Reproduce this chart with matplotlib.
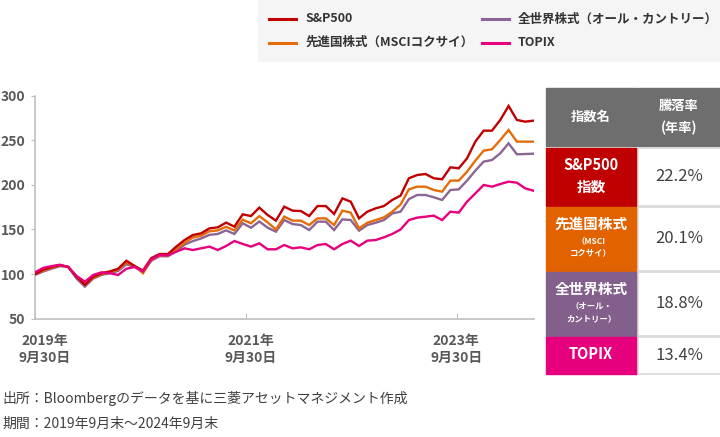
import matplotlib
matplotlib.use("Agg")
import matplotlib.pyplot as plt
from matplotlib.patches import Rectangle
from matplotlib.lines import Line2D
import numpy as np

plt.rcParams['font.family'] = ['Noto Sans CJK JP', 'DejaVu Sans']

# monthly index values, 2019/9 = 100
sp500 = [100, 105, 108, 110, 108, 97, 88, 97, 101, 103,
         106, 115, 109, 104, 118, 122.5, 122.5, 130.8, 138.2, 143.8,
         145.7, 151.3, 152.4, 157.7, 153.2, 167, 165.1, 174.5, 166.3, 159.9,
         175.6, 171.1, 170.7, 165.1, 176.3, 176.3, 167.4, 184.9, 181.2, 162.5,
         170, 173.7, 176.3, 183.1, 188, 207.4, 211.1, 212.2, 207.4, 206.3,
         219.7, 218.6, 229.8, 248.5, 260.8, 260.8, 272.8, 288.5, 272.8, 270.9, 272]
msci_kokusai = [100, 104, 107, 110, 108, 97, 88, 96, 100, 102,
                105, 113, 109, 101, 116, 121, 121, 128, 135, 141,
                143, 148, 149, 153, 149, 161, 157, 165, 158, 150,
                164.4, 159.9, 159.9, 155, 162.5, 162.5, 155, 171.1, 168.9, 151.3,
                157.6, 160.6, 163.6, 170, 178, 195, 198, 198, 194.3, 192.4,
                204.8, 204.8, 214.8, 227.2, 238.4, 239.9, 250.3, 261.6, 248.5, 248.5, 248.5]
all_country = [99, 103, 106, 109, 108, 95, 86, 95, 99, 101,
               103.5, 111, 108, 102.4, 115, 120, 120, 126, 133, 137,
               140, 144, 145, 149, 145, 157, 152, 159, 152, 147.6,
               160.6, 156.1, 155, 149.4, 158.8, 158.8, 149.4, 161.4, 160.6, 148.7,
               155, 157.6, 160.6, 168, 170, 184, 188.7, 188.7, 186.1, 183.1,
               194.3, 195, 204.8, 216, 226.1, 227.9, 235.4, 246.6, 234.3, 234.6, 235]
topix = [102, 107, 109, 110.5, 108, 98, 91.5, 99, 102, 101,
         99, 106, 108, 103, 116.6, 121.4, 121, 125, 128.9, 127,
         128.9, 130.8, 127, 131.5, 137.1, 133.8, 130.8, 134.5, 127.8, 127.8,
         132.6, 128.9, 130, 127.8, 132.6, 133.7, 127.8, 133.7, 137.5, 131.5,
         137.5, 138.2, 141.2, 145, 150, 160.6, 163.3, 164.4, 165.5, 160.6,
         170, 168.9, 181.2, 190.5, 199.9, 198, 201, 203.6, 202.5, 196.1, 193.5]

legend_names = ["S&P500", "先進国株式（MSCIコクサイ）", "全世界株式（オール・カントリー）", "TOPIX"]
colors = ["#c00000", "#e46c0a", "#8a6595", "#e6007e"]
xtick_labels = ["2019年\n9月30日", "2021年\n9月30日", "2023年\n9月30日"]

row_titles = ["S&P500\n指数", "先進国株式", "全世界株式", "TOPIX"]
row_subtitles = ["", "（MSCI\nコクサイ）", "（オール・\nカントリー）", ""]
returns = ["22.2%", "20.1%", "18.8%", "13.4%"]
row_colors = ["#c00000", "#e36200", "#83608c", "#e6007e"]

W, H = 720, 437


def fx(x):
    return x / W


def fy(y):
    return 1 - y / H


fig = plt.figure(figsize=(7.2, 4.37), dpi=100)

# main chart
ax = fig.add_axes([fx(35), fy(318.7), 498.5 / W, (318.7 - 95.7) / H])
x = np.arange(len(sp500))
series = [sp500, msci_kokusai, all_country, topix]
zorders = [4, 3, 2, 5]
for vals, c, z in zip(series, colors, zorders):
    ax.plot(x, vals, color=c, lw=1.7, zorder=z, solid_joinstyle='miter')

ax.set_xlim(0, 60)
ax.set_ylim(50, 300)
ax.set_yticks(np.arange(50, 301, 50))
ax.tick_params(axis='y', length=3, color='#bfbfbf', pad=4, labelsize=10,
               labelcolor='#595959')
for lab in ax.get_yticklabels():
    lab.set_fontweight('bold')

# tick marks and labels are slightly offset in the original
ax.set_xticks([0, 25.36, 50.76])
ax.set_xticklabels([])
ax.tick_params(axis='x', which='major', direction='in', length=4, color='#bfbfbf')
ax.set_xticks([1.2, 26.0, 50.7], minor=True)
ax.set_xticklabels(xtick_labels, minor=True, fontsize=10, fontweight='bold',
                   color='#595959', linespacing=1.25)
ax.tick_params(axis='x', which='minor', length=0, pad=11)

for s in ['top', 'right']:
    ax.spines[s].set_visible(False)
for s in ['left', 'bottom']:
    ax.spines[s].set_color('#bfbfbf')
    ax.spines[s].set_linewidth(1.2)

# legend box
fig.add_artist(Rectangle((fx(258), fy(61)), 1 - fx(258), 61 / H,
                         transform=fig.transFigure, color='#f5f5f5', zorder=0))
leg_pos = [(269, 19), (269, 42.5), (482, 19), (482, 42.5)]
for (lx, ly), name, c in zip(leg_pos, legend_names, colors):
    fig.add_artist(Line2D([fx(lx), fx(lx + 27)], [fy(ly), fy(ly)],
                          transform=fig.transFigure, color=c, lw=2.2))
    fig.text(fx(lx + 36), fy(ly), name, fontsize=9, fontweight='bold',
             color='#333333', va='center', ha='left')

# table
left0, left1, right0, right1 = 546, 636.5, 638, 720
fig.add_artist(Rectangle((fx(left0), fy(146)), (left1 - left0) / W, 58 / H,
                         transform=fig.transFigure, color='#6e6e6e'))
fig.add_artist(Rectangle((fx(right0), fy(146)), (right1 - right0) / W, 58 / H,
                         transform=fig.transFigure, color='#6e6e6e'))
fig.text(fx(591), fy(117), "指数名", color='white', fontsize=9.5,
         fontweight='bold', ha='center', va='center')
fig.text(fx(679), fy(106), "騰落率", color='white', fontsize=9.5,
         fontweight='bold', ha='center', va='center')
fig.text(fx(679), fy(128), "(年率)", color='white', fontsize=9.5,
         fontweight='bold', ha='center', va='center')

row_bounds = [(147.5, 205.5), (207, 270.5), (272, 335.5), (337, 373.5)]
title_y = [176, 224, 289, 354]
sub_y = [None, 247, 312, None]
for (t, b), title, sub, ret, rc, ty, sy in zip(row_bounds, row_titles, row_subtitles,
                                              returns, row_colors, title_y, sub_y):
    fig.add_artist(Rectangle((fx(left0), fy(b)), (left1 - left0) / W, (b - t) / H,
                             transform=fig.transFigure, color=rc))
    fig.add_artist(Rectangle((fx(right0), fy(b)), (right1 - right0 + 2) / W, (b - t) / H,
                             transform=fig.transFigure, facecolor='white',
                             edgecolor='#d9d9d9', lw=1.2))
    fig.text(fx(591), fy(ty), title, color='white', fontsize=10.5,
             fontweight='bold', ha='center', va='center', linespacing=1.4)
    if sub:
        fig.text(fx(591), fy(sy), sub, color='white', fontsize=6,
                 fontweight='bold', ha='center', va='center', linespacing=1.6)
    fig.text(fx(679.5), fy((t + b) / 2), ret, color='#404040', fontsize=12,
             ha='center', va='center')

# notes
fig.text(fx(2), fy(399), "出所：Bloombergのデータを基に三菱アセットマネジメント作成",
         fontsize=10, color='#404040', ha='left', va='center')
fig.text(fx(2), fy(424), "期間：2019年9月末～2024年9月末",
         fontsize=10, color='#404040', ha='left', va='center')

fig.savefig("out.png", dpi=100, facecolor='white')
